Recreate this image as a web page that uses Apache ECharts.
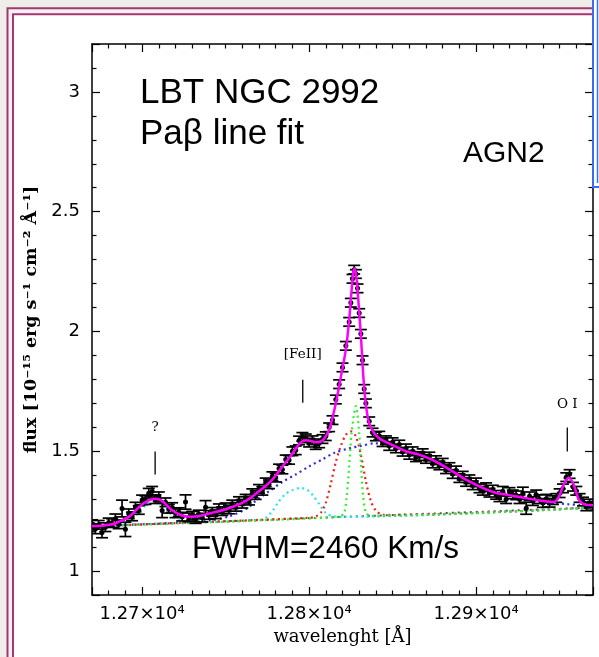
<!DOCTYPE html>
<html>
<head>
<meta charset="utf-8">
<script src="https://cdn.jsdelivr.net/npm/echarts@6/dist/echarts.min.js"></script>
<style>
html,body{margin:0;padding:0;background:#efeeea;}
#chart{width:599px;height:657px;}
</style>
</head>
<body>
<div id="chart"></div>
<script>
// ---- data ----
var specWl = [12668,12670,12672,12674,12676,12678,12680,12682,12684,12686,12688,12690,12692,12694,12696,12698,12700,12702,12704,12706,12708,12710,12712,12714,12716,12718,12720,12722,12724,12726,12728,12730,12732,12734,12736,12738,12740,12742,12744,12746,12748,12750,12752,12754,12756,12758,12760,12762,12764,12766,12768,12770,12772,12774,12776,12778,12780,12782,12784,12786,12788,12790,12792,12794,12796,12798,12800,12802,12804,12806,12808,12810,12812,12814,12816,12818,12820,12822,12824,12825,12826,12827,12828,12829,12830,12831,12832,12833,12834,12836,12838,12840,12842,12844,12846,12848,12850,12852,12854,12856,12858,12860,12862,12864,12866,12868,12870,12872,12874,12876,12878,12880,12882,12884,12886,12888,12890,12892,12894,12896,12898,12900,12902,12904,12906,12908,12910,12912,12914,12916,12918,12920,12922,12924,12926,12928,12930,12932,12934,12936,12938,12940,12942,12944,12946,12948,12950,12952,12954,12956,12958,12960,12962,12964,12966,12968,12970];
var specFlux = [1.183,1.196,1.176,1.193,1.161,1.183,1.203,1.200,1.218,1.195,1.261,1.174,1.239,1.228,1.267,1.255,1.297,1.296,1.325,1.333,1.300,1.310,1.253,1.287,1.260,1.265,1.241,1.246,1.227,1.288,1.224,1.231,1.217,1.236,1.223,1.266,1.234,1.247,1.237,1.260,1.250,1.266,1.257,1.278,1.268,1.292,1.281,1.302,1.294,1.325,1.317,1.343,1.335,1.370,1.362,1.396,1.390,1.428,1.424,1.466,1.464,1.500,1.504,1.545,1.560,1.554,1.536,1.546,1.526,1.533,1.551,1.563,1.600,1.630,1.716,1.780,1.850,1.940,2.040,2.120,2.220,2.258,2.240,2.180,2.077,1.990,1.880,1.760,1.700,1.625,1.578,1.562,1.565,1.538,1.546,1.522,1.538,1.512,1.528,1.498,1.512,1.485,1.500,1.475,1.480,1.492,1.468,1.478,1.449,1.463,1.441,1.452,1.425,1.434,1.405,1.420,1.388,1.398,1.372,1.383,1.358,1.370,1.345,1.335,1.350,1.327,1.340,1.318,1.308,1.333,1.300,1.330,1.320,1.316,1.300,1.325,1.262,1.312,1.292,1.318,1.300,1.284,1.302,1.285,1.296,1.305,1.325,1.345,1.392,1.405,1.352,1.335,1.305,1.290,1.270,1.282,1.272];
var specErr = [0.018,0.018,0.02,0.018,0.022,0.018,0.018,0.018,0.02,0.018,0.035,0.03,0.02,0.018,0.02,0.018,0.02,0.018,0.02,0.02,0.018,0.02,0.03,0.018,0.018,0.02,0.018,0.018,0.018,0.03,0.018,0.018,0.018,0.018,0.018,0.028,0.018,0.018,0.018,0.02,0.018,0.018,0.018,0.018,0.018,0.018,0.018,0.018,0.018,0.018,0.018,0.018,0.018,0.018,0.018,0.018,0.018,0.018,0.018,0.018,0.018,0.018,0.018,0.018,0.018,0.018,0.018,0.018,0.018,0.018,0.018,0.018,0.018,0.018,0.018,0.018,0.018,0.018,0.018,0.018,0.018,0.018,0.018,0.018,0.018,0.018,0.018,0.018,0.018,0.018,0.018,0.018,0.018,0.018,0.018,0.018,0.018,0.018,0.018,0.018,0.018,0.018,0.018,0.018,0.018,0.018,0.018,0.018,0.018,0.018,0.018,0.018,0.018,0.018,0.018,0.018,0.018,0.018,0.018,0.018,0.018,0.018,0.018,0.018,0.018,0.018,0.018,0.018,0.018,0.02,0.018,0.018,0.018,0.018,0.018,0.025,0.025,0.018,0.018,0.02,0.018,0.018,0.018,0.018,0.018,0.018,0.018,0.018,0.018,0.018,0.018,0.018,0.018,0.018,0.018,0.018,0.018];

var fitWl   = [12670,12676,12682,12687,12693,12699,12704,12708,12712,12717,12723,12729,12735,12743,12751,12762,12770,12778,12784,12790,12794,12798,12801,12804,12808,12812,12814,12816,12819,12822,12824,12825.3,12826.5,12827.3,12828.5,12829.9,12831.3,12832.5,12833.9,12835.9,12838.9,12842.9,12847.8,12857.8,12865.8,12875.7,12885.7,12895.6,12905.6,12911.6,12918.6,12928.5,12938.5,12946.5,12949.5,12952.5,12955.4,12958.4,12961.4,12964.4,12970];
var fitFlux = [1.188,1.189,1.195,1.208,1.231,1.272,1.295,1.302,1.293,1.259,1.234,1.227,1.231,1.245,1.260,1.292,1.333,1.382,1.436,1.490,1.530,1.546,1.543,1.538,1.545,1.590,1.640,1.700,1.810,1.924,2.049,2.160,2.250,2.264,2.215,2.090,1.950,1.810,1.700,1.618,1.576,1.549,1.533,1.500,1.486,1.458,1.417,1.375,1.342,1.327,1.318,1.306,1.294,1.288,1.310,1.361,1.389,1.361,1.300,1.279,1.275];

var contWl = [12670,12970];
var contFlux = [1.187,1.265];

var cyanWl   = [12670,12686,12691,12695,12699,12703,12707,12711,12715,12719,12724,12730,12770,12774,12778,12782,12786,12790,12795,12799,12802,12806,12810,12814,12820,12970];
var cyanFlux = [1.187,1.191,1.200,1.222,1.252,1.281,1.294,1.283,1.255,1.225,1.207,1.203,1.213,1.222,1.250,1.292,1.322,1.338,1.347,1.338,1.318,1.280,1.242,1.229,1.226,1.265];

var blueWl   = [12670,12730,12740,12752,12763,12768,12772,12776,12784,12792,12800,12808,12815,12825,12831,12839,12848,12858,12866,12876,12886,12896,12906,12912,12919,12929,12939,12947,12955,12962,12970];
var blueFlux = [1.187,1.204,1.210,1.228,1.262,1.293,1.313,1.333,1.372,1.403,1.437,1.466,1.493,1.514,1.522,1.533,1.530,1.500,1.485,1.457,1.416,1.374,1.341,1.326,1.316,1.303,1.291,1.284,1.279,1.276,1.273];

var redWl   = [12670,12800,12804,12807,12810,12813,12816,12819,12822,12825,12828,12831,12834,12837,12840,12844,12850,12970];
var redFlux = [1.187,1.222,1.228,1.243,1.285,1.365,1.455,1.522,1.568,1.583,1.562,1.485,1.375,1.292,1.252,1.235,1.234,1.265];

var greenWl   = [12670,12818,12821,12822.5,12824,12825.5,12828,12830,12831,12832.3,12834,12837,12970];
var greenFlux = [1.187,1.226,1.245,1.310,1.437,1.580,1.688,1.577,1.450,1.320,1.245,1.230,1.265];

// line-identification markers: position, marker bottom, marker top, label level
var annText = ['?', '[FeII]', 'O I'];
var annWl   = [12707.8, 12796.2, 12954.6];
var annLow  = [1.403, 1.703, 1.499];
var annHigh = [1.499, 1.799, 1.599];
var annLab  = [1.599, 1.903, 1.695];

var xTickLabels = {12700:'1.27×10⁴', 12800:'1.28×10⁴', 12900:'1.29×10⁴'};
var yTickLabels = {'1':'1','1.5':'1.5','2':'2','2.5':'2.5','3':'3'};

function pairs(a,b){ return a.map(function(v,i){ return [v,b[i]]; }); }

var chart = echarts.init(document.getElementById('chart'), null, {renderer:'canvas'});

var axisCommon = {
  type:'value',
  axisLine:{show:true, onZero:false, lineStyle:{color:'#000', width:1.5}},
  axisTick:{show:true, inside:true, length:8, lineStyle:{color:'#000', width:1.2}},
  minorTick:{show:true, length:4.5, lineStyle:{color:'#000', width:1.2}},
  splitLine:{show:false},
  minorSplitLine:{show:false}
};
function ax(extra){ return Object.assign(JSON.parse(JSON.stringify(axisCommon)), extra); }

var option = {
  animation:false,
  backgroundColor:'#efeeea',
  grid:{left:92, right:6, top:44, bottom:62, containLabel:false},
  xAxis:[
    ax({position:'bottom', min:12670, max:12970, splitNumber:3,
        minorTick:{show:true, splitNumber:10, length:4.5, lineStyle:{color:'#000', width:1.2}},
        axisLabel:{show:true, margin:10, color:'#000', fontFamily:'DejaVu Sans', fontSize:18,
          formatter:function(v){ return xTickLabels[Math.round(v)] && Math.abs(v-Math.round(v))<1e-6 ? xTickLabels[Math.round(v)] : ''; }},
        name:'wavelenght [Å]', nameLocation:'middle', nameGap:31,
        nameTextStyle:{color:'#000', fontFamily:'DejaVu Serif', fontSize:18}}),
    ax({position:'top', min:12670, max:12970, splitNumber:3,
        minorTick:{show:true, splitNumber:10, length:4.5, lineStyle:{color:'#000', width:1.2}},
        axisLabel:{show:false}})
  ],
  yAxis:[
    ax({position:'left', min:0.9, max:3.2, splitNumber:5,
        minorTick:{show:true, splitNumber:5, length:4.5, lineStyle:{color:'#000', width:1.2}},
        axisLabel:{show:true, margin:12, color:'#000', fontFamily:'DejaVu Sans', fontSize:18,
          formatter:function(v){ var k = String(Math.round(v*10)/10); return yTickLabels[k] || ''; }},
        name:'flux [10⁻¹⁵ erg s⁻¹ cm⁻² Å⁻¹]', nameLocation:'middle', nameGap:50, nameRotate:90,
        nameTextStyle:{color:'#000', fontFamily:'DejaVu Serif', fontSize:17.5, fontWeight:'bold'}}),
    ax({position:'right', min:0.9, max:3.2, splitNumber:5,
        minorTick:{show:true, splitNumber:5, length:4.5, lineStyle:{color:'#000', width:1.2}},
        axisLabel:{show:false}})
  ],
  graphic:[
    {type:'rect', z:-10, shape:{x:7.5, y:8.3, width:700, height:700}, style:{fill:'#f4eff2', stroke:'#a3386f', lineWidth:2}},
    {type:'rect', z:-9, shape:{x:13, y:14.3, width:700, height:700}, style:{fill:'#ffffff', stroke:'#a3386f', lineWidth:2}},
    {type:'rect', z:100, shape:{x:593, y:-5, width:20, height:192}, style:{fill:'#ffffff', stroke:'#3b6cf5', lineWidth:2}},
    {type:'line', z:100, shape:{x1:597.5, y1:0, x2:597.5, y2:183}, style:{stroke:'#3b6cf5', lineWidth:1.5}},
    {type:'text', z:50, x:140, y:76, style:{text:'LBT NGC 2992', fill:'#000', fontFamily:'Liberation Sans', fontSize:35, verticalAlign:'top'}},
    {type:'text', z:50, x:140, y:117, style:{text:'Paβ line fit', fill:'#000', fontFamily:'Liberation Sans', fontSize:35, verticalAlign:'top'}},
    {type:'text', z:50, x:463, y:139, style:{text:'AGN2', fill:'#000', fontFamily:'Liberation Sans', fontSize:30, verticalAlign:'top'}},
    {type:'text', z:50, x:192, y:533, style:{text:'FWHM=2460 Km/s', fill:'#000', fontFamily:'Liberation Sans', fontSize:31.5, verticalAlign:'top'}}
  ],
  series:[
    {type:'line', name:'continuum', data:pairs(contWl,contFlux), showSymbol:false, z:3,
     lineStyle:{color:'#555', width:2, type:[2,4]}},
    {type:'line', name:'cyan', data:pairs(cyanWl,cyanFlux), showSymbol:false, smooth:0.3, z:4,
     lineStyle:{color:'#22e6f0', width:2.2, type:[2,3.5], dashOffset:2}},
    {type:'line', name:'blue', data:pairs(blueWl,blueFlux), showSymbol:false, smooth:0.3, z:4,
     lineStyle:{color:'#2a2af0', width:2.2, type:[2,3.5], dashOffset:4}},
    {type:'line', name:'red', data:pairs(redWl,redFlux), showSymbol:false, smooth:0.3, z:4,
     lineStyle:{color:'#f02020', width:2.2, type:[2,3.5], dashOffset:1}},
    {type:'line', name:'green', data:pairs(greenWl,greenFlux), showSymbol:false, smooth:0.3, z:4,
     lineStyle:{color:'#30f030', width:2.2, type:[2,3.5], dashOffset:3}},
    {type:'custom', name:'spectrum', z:5, clip:true,
     data:specWl.map(function(w,i){ return [w, specFlux[i], specErr[i]]; }),
     encode:{x:0, y:1},
     renderItem:function(params, api){
       var x = api.value(0), y = api.value(1), e = api.value(2);
       var p = api.coord([x,y]), t = api.coord([x,y+e]), b = api.coord([x,y-e]);
       var c = 6, st = {stroke:'#000', lineWidth:1.7};
       return {type:'group', children:[
         {type:'line', shape:{x1:p[0],y1:t[1],x2:p[0],y2:b[1]}, style:st},
         {type:'line', shape:{x1:p[0]-c,y1:t[1],x2:p[0]+c,y2:t[1]}, style:st},
         {type:'line', shape:{x1:p[0]-c,y1:b[1],x2:p[0]+c,y2:b[1]}, style:st},
         {type:'circle', shape:{cx:p[0],cy:p[1],r:2.5}, style:{fill:'#000'}}
       ]};
     }},
    {type:'line', name:'fit', data:pairs(fitWl,fitFlux), showSymbol:false, smooth:0.3, z:6,
     lineStyle:{color:'#ff00ff', width:2.5}},
    {type:'custom', name:'labels', z:7,
     data:annWl.map(function(w,i){ return [w, annLow[i], annHigh[i], annLab[i], i]; }),
     encode:{x:0, y:1},
     renderItem:function(params, api){
       var w = api.value(0), i = api.value(4);
       var lo = api.coord([w, api.value(1)]), hi = api.coord([w, api.value(2)]), lb = api.coord([w, api.value(3)]);
       return {type:'group', children:[
         {type:'line', shape:{x1:lo[0],y1:lo[1],x2:hi[0],y2:hi[1]}, style:{stroke:'#000', lineWidth:1.3}},
         {type:'text', x:lb[0], y:lb[1], style:{text:annText[i], fill:'#000', fontFamily:'DejaVu Serif', fontSize:13.5, align:'center', verticalAlign:'middle'}}
       ]};
     }}
  ]
};
chart.setOption(option);
</script>
</body>
</html>
